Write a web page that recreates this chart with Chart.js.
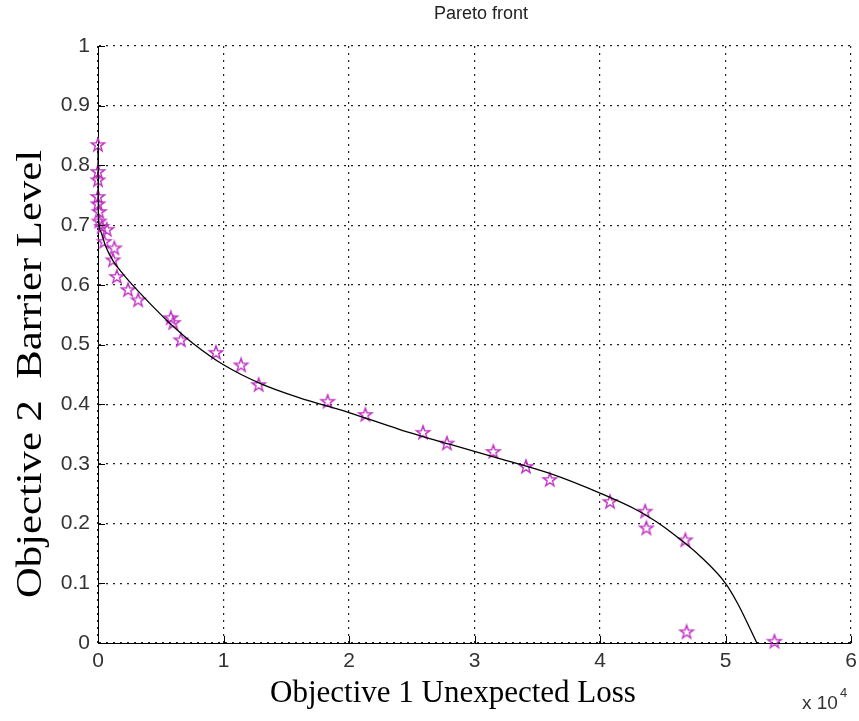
<!DOCTYPE html>
<html>
<head>
<meta charset="utf-8">
<title>Pareto front</title>
<script src="https://cdn.jsdelivr.net/npm/chart.js@4.4.1/dist/chart.umd.min.js"></script>
<style>
    html, body { margin: 0; padding: 0; background: #fff; }
    canvas { display: block; }
</style>
</head>
<body>
<canvas id="pareto" width="859" height="721"></canvas>
<script>
// Pareto solutions: objective 1 (in units of 10^4) and objective 2
const solX = [0.00, 0.00, 0.00, 0.00, 0.00, 0.01, 0.01, 0.03, 0.07, 0.05, 0.13, 0.12, 0.15, 0.24, 0.32,
    0.58, 0.60, 0.66, 0.94, 1.14, 1.28, 1.83, 2.13, 2.59, 2.78, 3.15, 3.41, 3.60, 4.08, 4.36, 4.37, 4.68, 4.69, 5.39]
const solY = [0.834, 0.789, 0.775, 0.747, 0.735, 0.722, 0.706, 0.697, 0.692, 0.672, 0.661, 0.641, 0.613, 0.591, 0.574,
    0.544, 0.536, 0.507, 0.486, 0.465, 0.432, 0.404, 0.382, 0.352, 0.334, 0.320, 0.295, 0.273, 0.236, 0.220, 0.192, 0.172, 0.018, 0.002]

// fitted front
const fitX = [0.0, 0.003, 0.02, 0.06, 0.12, 0.2, 0.3, 0.45, 0.6, 0.75, 1.0, 1.3, 1.6, 2.0, 2.4, 2.8,
    3.2, 3.6, 4.0, 4.3, 4.45, 4.6, 4.8, 5.0, 5.1, 5.25]
const fitY = [0.83, 0.72, 0.69, 0.665, 0.64, 0.618, 0.594, 0.561, 0.53, 0.503, 0.466, 0.434, 0.411, 0.386, 0.358, 0.333,
    0.309, 0.284, 0.251, 0.222, 0.203, 0.18, 0.145, 0.10, 0.065, 0.0]

const xTicks = [0, 1, 2, 3, 4, 5, 6]
const xTickLabels = ['0', '1', '2', '3', '4', '5', '6']
const yTicks = [0, 0.1, 0.2, 0.3, 0.4, 0.5, 0.6, 0.7, 0.8, 0.9, 1]
const yTickLabels = ['0', '0.1', '0.2', '0.3', '0.4', '0.5', '0.6', '0.7', '0.8', '0.9', '1']

// matlab style pentagram marker
function pentagram(r, color) {
    const c = document.createElement('canvas')
    const s = Math.ceil(r * 2 + 4)
    c.width = s
    c.height = s
    const g = c.getContext('2d')
    g.translate(s / 2, s / 2)
    g.beginPath()
    for (let i = 0; i < 10; i++) {
        const rr = i % 2 ? r * 0.4 : r
        const a = -Math.PI / 2 + i * Math.PI / 5
        g.lineTo(rr * Math.cos(a), rr * Math.sin(a))
    }
    g.closePath()
    g.strokeStyle = color
    g.lineWidth = 1.4
    g.stroke()
    return c
}

const tickFont = { family: '"Liberation Sans", Arial, sans-serif', size: 21 }
const gridDots = { display: true, color: '#000', width: 1, dash: [2, 5] }

// inward ticks, texts of the figure
const figureDecor = {
    id: 'figureDecor',
    afterDraw(chart) {
        const { ctx, chartArea: a, scales: { x, y } } = chart
        ctx.save()
        ctx.strokeStyle = '#000'
        ctx.lineWidth = 1
        ctx.beginPath()
        xTicks.forEach(v => {
            const px = Math.round(x.getPixelForValue(v)) + 0.5
            ctx.moveTo(px, a.bottom)
            ctx.lineTo(px, a.bottom - 7)
        })
        yTicks.forEach(v => {
            const py = Math.round(y.getPixelForValue(v)) + 0.5
            ctx.moveTo(a.left, py)
            ctx.lineTo(a.left + 7, py)
        })
        ctx.stroke()

        ctx.fillStyle = '#222'
        ctx.textAlign = 'center'
        ctx.textBaseline = 'middle'
        ctx.font = '18px "Liberation Sans", Arial, sans-serif'
        ctx.fillText('Pareto front', 481, 14)

        ctx.fillStyle = '#000'
        ctx.font = '31px "Liberation Serif", "Times New Roman", serif'
        ctx.textBaseline = 'alphabetic'
        ctx.fillText('Objective 1 Unexpected Loss', 453, 702)

        ctx.save()
        ctx.translate(41, 374)
        ctx.rotate(-Math.PI / 2)
        ctx.scale(1.22, 1)
        ctx.font = '35px "Liberation Serif", "Times New Roman", serif'
        ctx.fillText('Objective 2  Barrier Level', 0, 0)
        ctx.restore()

        ctx.fillStyle = '#333'
        ctx.textAlign = 'left'
        ctx.font = '19px "Liberation Sans", Arial, sans-serif'
        ctx.fillText('x 10', 802, 709)
        ctx.font = '13px "Liberation Sans", Arial, sans-serif'
        ctx.fillText('4', 840, 697)
        ctx.restore()
    }
}

const ctx = document.getElementById('pareto').getContext('2d')
new Chart(ctx, {
    type: 'scatter',
    data: {
        datasets: [
            {
                label: 'front',
                data: fitX.map((v, i) => ({ x: v, y: fitY[i] })),
                showLine: true,
                borderColor: '#000',
                borderWidth: 1.3,
                pointRadius: 0,
                cubicInterpolationMode: 'monotone',
                clip: false
            },
            {
                label: 'solutions',
                data: solX.map((v, i) => ({ x: v, y: solY[i] })),
                pointStyle: pentagram(7, '#c030c4'),
                pointRadius: 7,
                clip: false
            }
        ]
    },
    options: {
        responsive: false,
        animation: false,
        layout: { padding: { top: 46, right: 4, bottom: 0, left: 0 } },
        scales: {
            x: {
                type: 'linear',
                min: 0,
                max: 6,
                afterBuildTicks: s => { s.ticks = xTicks.map(v => ({ value: v })) },
                afterFit: s => { s.height = 78; s.paddingLeft = 0; s.paddingRight = 0 },
                ticks: {
                    callback: (v, i) => xTickLabels[i],
                    font: tickFont,
                    color: '#333',
                    padding: 6,
                    maxRotation: 0,
                    autoSkip: false
                },
                grid: { color: '#222', lineWidth: 1.2, drawTicks: false },
                border: gridDots
            },
            y: {
                type: 'linear',
                min: 0,
                max: 1,
                afterBuildTicks: s => { s.ticks = yTicks.map(v => ({ value: v })) },
                afterFit: s => { s.width = 98; s.paddingTop = 0; s.paddingBottom = 0 },
                ticks: {
                    callback: (v, i) => yTickLabels[i],
                    font: tickFont,
                    color: '#333',
                    padding: 8,
                    autoSkip: false
                },
                grid: { color: '#222', lineWidth: 1.2, drawTicks: false },
                border: gridDots
            }
        },
        plugins: {
            legend: { display: false },
            tooltip: { enabled: false }
        }
    },
    plugins: [figureDecor]
})
</script>
</body>
</html>
